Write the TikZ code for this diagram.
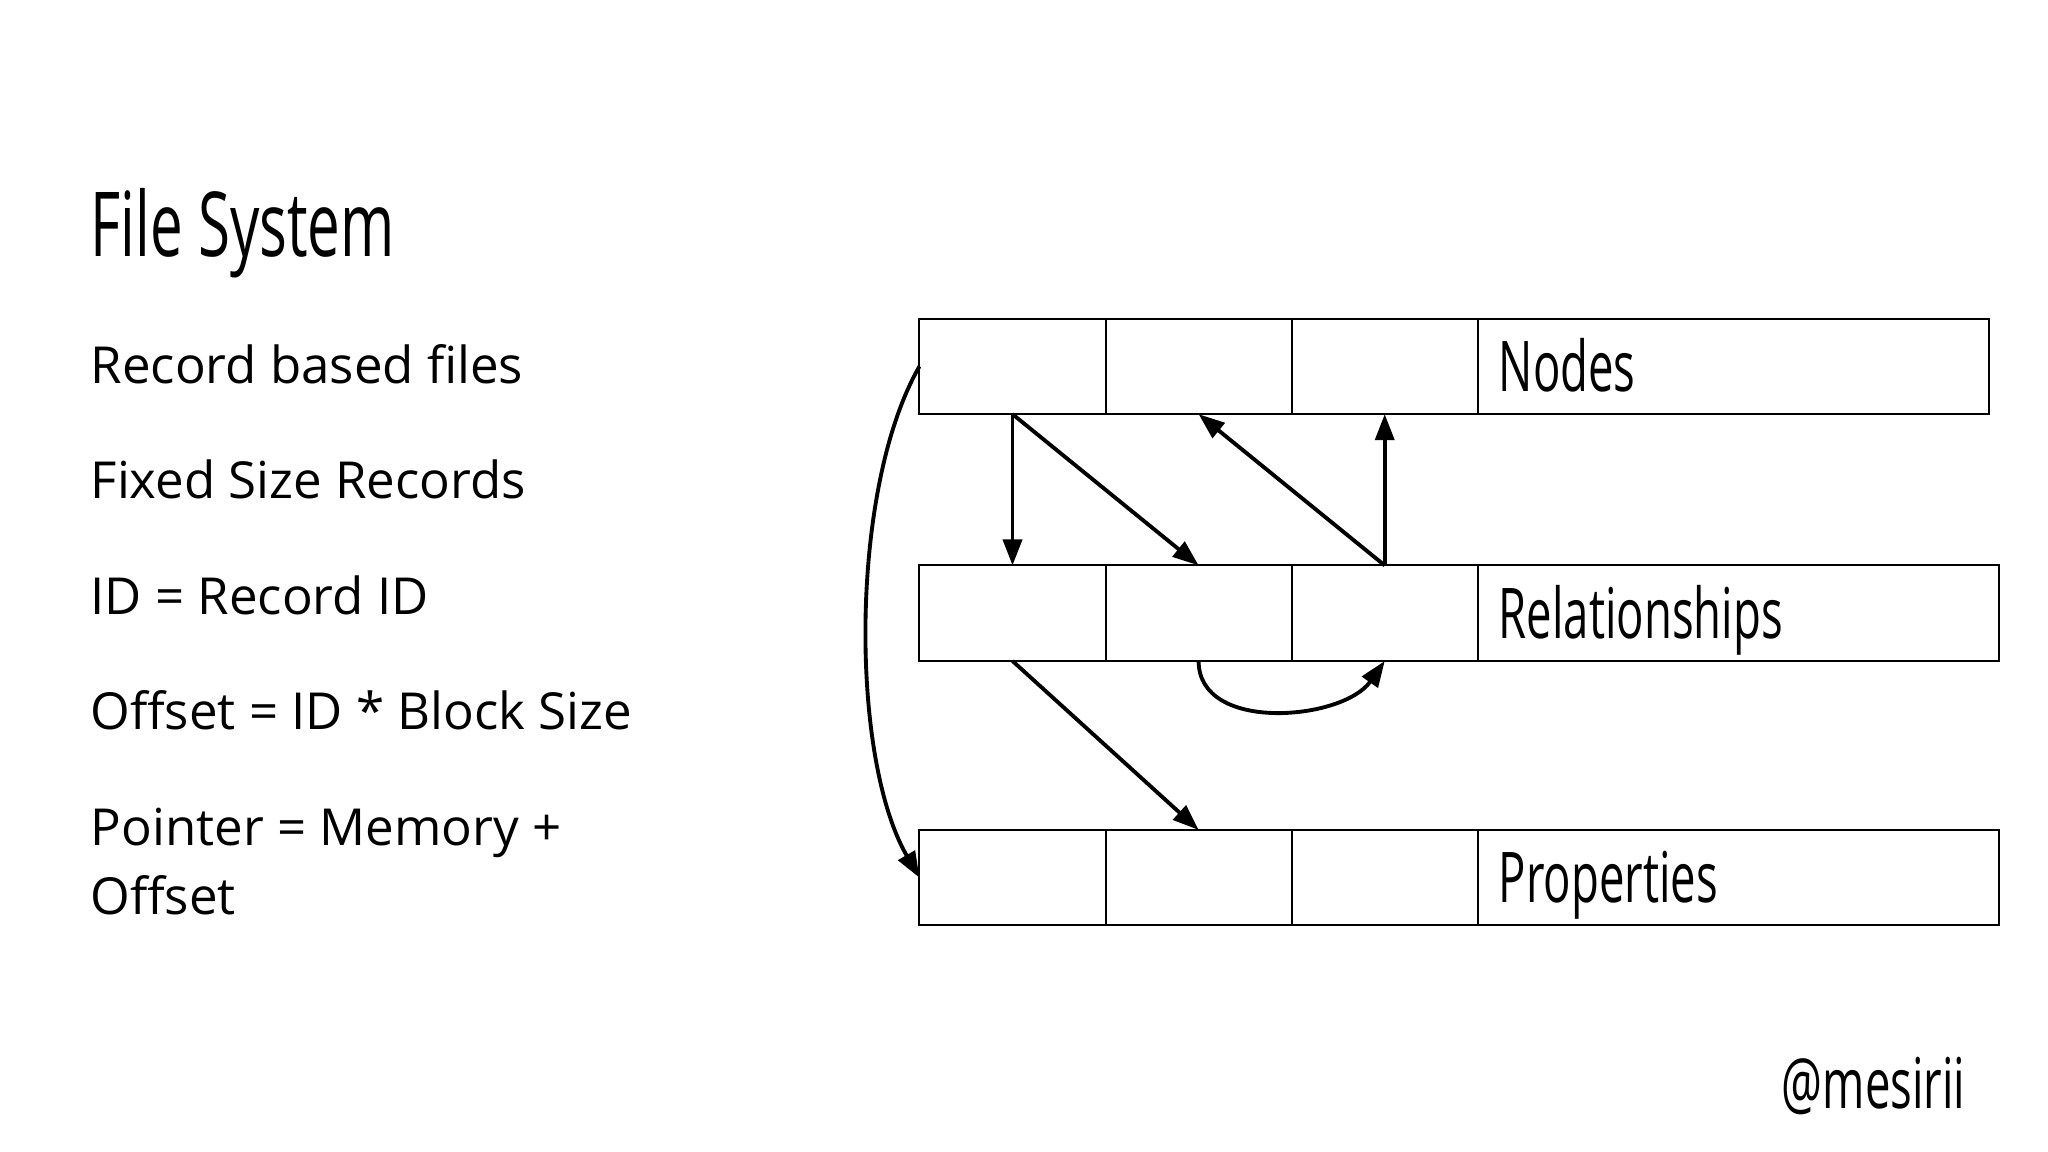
\documentclass[tikz,border=0pt]{standalone}
\usepackage{fontspec}
\setmainfont{Open Sans}
\newfontfamily\condfont[FakeStretch=0.65]{Open Sans}
\usepackage{tikz}
\usetikzlibrary{positioning,arrows.meta}
\tikzset{
cell/.style={
draw,
line width=0.57pt,
minimum width=1.86cm,
minimum height=0.955cm,
inner sep=0pt,
outer sep=0pt
},
tagbox/.style={
cell,
inner xsep=0.21cm,
align=left,
text height=0.5cm,
text depth=0cm,
font=\condfont\fontsize{19.9}{22}\selectfont
},
item/.style={
anchor=base west,
inner sep=0pt,
align=left,
font=\fontsize{14.5}{19.6}\selectfont
},
arrow/.style={
-{Triangle[length=0.26cm,width=0.19cm]},
line width=1.1pt
}
}
\begin{document}
\begin{tikzpicture}[x=0.01cm,y=0.01cm]
\useasboundingbox (0,0) rectangle (2048,-1152);

% left column
\node[item,font=\condfont\fontsize{25.5}{28}\selectfont](title) at (90,-257){File System};
\node[item](l1) at (90,-384){Record based files};
\node[item](l2) at (90,-499){Fixed Size Records};
\node[item](l3) at (90,-614){ID = Record ID};
\node[item](l4) at (90,-729){Offset = ID * Block Size};
\node[item](l5) at (90,-914){Pointer = Memory +\\Offset};

% record rows
\foreach \r/\y/\t/\w/\tw in {n/366.4/Nodes/5.11/4.69,r/613.2/Relationships/5.21/4.79,p/877.7/Properties/5.21/4.79}{
\node[cell](\r1) at (1012.5,-\y){};
\node[cell,right=0pt of \r1](\r2){};
\node[cell,right=0pt of \r2](\r3){};
\node[tagbox,minimum width=\w cm,text width=\tw cm,right=0pt of \r3](\r4){\t};
}

\foreach \a/\b in {n1.south/r1.north,n1.south/r2.north,r3.north/n2.south,r3.north/n3.south,r1.south/p2.north}
\draw[arrow](\a)--(\b);

\draw[arrow](r2.south) to[out=-90,in=-125] (r3.south);
\draw[arrow](n1.west) to[out=240,in=120,looseness=0.7] (p1.west);

\node[anchor=base east,inner sep=0pt,font=\condfont\fontsize{19.9}{22}\selectfont](handle) at (1966,-1108){@mesirii};
\end{tikzpicture}
\end{document}
